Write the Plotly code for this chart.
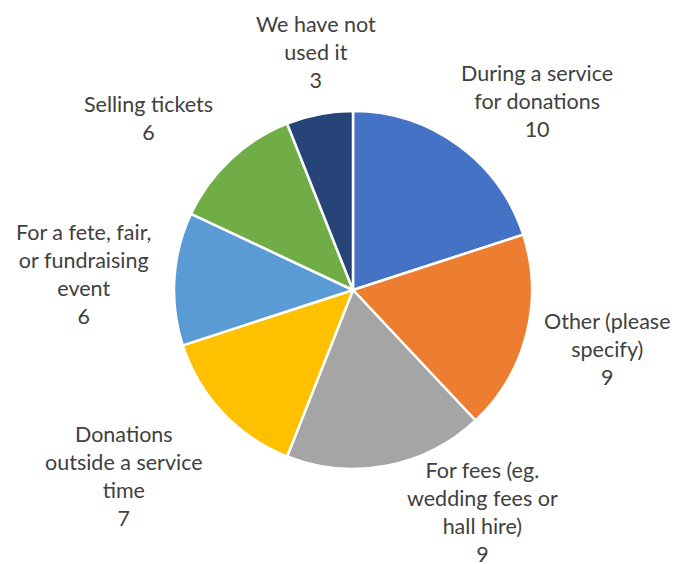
import plotly.graph_objects as go

labels = ["During a service<br>for donations", "Other (please<br>specify)",
          "For fees (eg.<br>wedding fees or<br>hall hire)", "Donations<br>outside a service<br>time",
          "For a fete, fair,<br>or fundraising<br>event", "Selling tickets", "We have not<br>used it"]
values = [10, 9, 9, 7, 6, 6, 3]
colors = ["#4472C4", "#ED7D31", "#A5A5A5", "#FFC000", "#5B9BD5", "#70AD47", "#264478"]

# layout / style (pixels). The page body has an 8px margin, so the figure is drawn 8px in.
OFF = 8
W, H = 680 - OFF, 564 - OFF
cx, cy, R = 353 - OFF, 290 - OFF, 179
# data-label block centres, as offsets from the pie centre (pixels)
label_offsets = [(184, -189), (254, 59), (129, 222), (-229, 186), (-270, -16), (-205, -172), (-37, -238)]

fig = go.Figure(go.Pie(
    labels=labels, values=values, sort=False, direction="clockwise",
    marker=dict(colors=colors, line=dict(color="white", width=2.5)),
    textinfo="none", hoverinfo="label+value", showlegend=False,
    domain=dict(x=[(cx - R) / W, (cx + R) / W],
                y=[1 - (cy + R) / H, 1 - (cy - R) / H]),
))

annotations = []
for lab, v, (dx, dy) in zip(labels, values, label_offsets):
    annotations.append(dict(
        x=(cx + dx) / W, y=1 - (cy + dy) / H, xref="paper", yref="paper",
        text=f"{lab}<br>{v}", showarrow=False, xanchor="center", yanchor="middle",
        align="center", font=dict(family="Lato, Open Sans, sans-serif", size=21.5, color="#404040"),
    ))

fig.update_layout(
    width=W, height=H, margin=dict(l=0, r=0, t=0, b=0),
    paper_bgcolor="white", plot_bgcolor="white",
    annotations=annotations,
)
fig.write_html("out.html")
